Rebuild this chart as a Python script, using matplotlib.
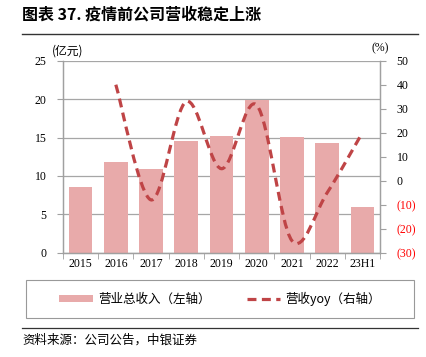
import matplotlib
matplotlib.use("Agg")
import matplotlib.pyplot as plt
from matplotlib.path import Path
from matplotlib.patches import PathPatch, Rectangle, Patch
from matplotlib.lines import Line2D
from matplotlib.ticker import FixedLocator, FuncFormatter
import numpy as np

plt.rcParams['font.family'] = ['Liberation Serif', 'Noto Sans CJK SC', 'DejaVu Sans']

categories = ['2015', '2016', '2017', '2018', '2019', '2020', '2021', '2022', '23H1']
revenue = [8.5, 11.8, 10.9, 14.5, 15.2, 19.9, 15.1, 14.3, 5.9]
yoy_categories = ['2016', '2017', '2018', '2019', '2020', '2021', '2022', '23H1']
yoy = [40.0, -8.0, 33.0, 5.0, 31.5, -25.0, -5.0, 20.0]

bar_color = '#E8AAAA'
line_color = '#BF4446'
grid_color = '#A6A6A6'
spine_color = '#A0A0A0'
cjk = ['Noto Sans CJK SC', 'DejaVu Sans']

fig = plt.figure(figsize=(4.27, 3.57), dpi=100)
W, H = 427, 357
ax = fig.add_axes([63 / W, 1 - 252.7 / H, (380 - 63) / W, (252.7 - 60.7) / H])
ax2 = ax.twinx()

x = np.arange(len(categories))
ax.bar(x, revenue, width=0.67, color=bar_color, zorder=2)
ax.set_xlim(-0.5, len(categories) - 0.5)
ax.set_ylim(0, 25)
ax.set_yticks(np.arange(0, 26, 5))
ax.yaxis.grid(True, color=grid_color, lw=0.9, zorder=0)
ax.set_axisbelow(True)
ax.set_xticks(x)
ax.set_xticklabels(categories, fontsize=8.5)
ax.xaxis.set_minor_locator(FixedLocator(np.arange(-0.5, len(categories), 1.0)))
ax.tick_params(axis='x', which='major', length=0, pad=4)
ax.tick_params(axis='x', which='minor', length=4, color=spine_color, direction='out')
ax.tick_params(axis='y', length=4, color=spine_color, labelsize=8.5, pad=8)

# smooth yoy line through the points (cardinal spline drawn as Bezier)
xi = [categories.index(c) for c in yoy_categories]
pts = list(zip(xi, yoy))
verts = [pts[0]]
codes = [Path.MOVETO]
n = len(pts)
for i in range(n - 1):
    p0 = pts[i - 1] if i > 0 else pts[i]
    p1 = pts[i]
    p2 = pts[i + 1]
    p3 = pts[i + 2] if i + 2 < n else pts[i + 1]
    c1 = (p1[0] + (p2[0] - p0[0]) / 6, p1[1] + (p2[1] - p0[1]) / 6)
    c2 = (p2[0] - (p3[0] - p1[0]) / 6, p2[1] - (p3[1] - p1[1]) / 6)
    verts += [c1, c2, p2]
    codes += [Path.CURVE4] * 3
path = Path(verts, codes)
patch = PathPatch(path, fill=False, edgecolor=line_color, lw=2.3,
                  linestyle=(0, (2.8, 1.7)), capstyle='butt', transform=ax2.transData, zorder=3)
ax2.add_patch(patch)
ax2.set_ylim(-30, 50)
ax2.set_yticks(np.arange(-30, 51, 10))
ax2.yaxis.set_major_formatter(FuncFormatter(lambda v, p: f'({abs(int(v))})' if v < 0 else f'{int(v)}'))
ax2.tick_params(axis='y', length=4, color=spine_color, labelsize=8.5, pad=8)
for lbl, v in zip(ax2.get_yticklabels(), np.arange(-30, 51, 10)):
    if v < 0:
        lbl.set_color('red')

for a in (ax, ax2):
    a.spines['top'].set_visible(False)
    for s in ('left', 'right', 'bottom'):
        a.spines[s].set_color(spine_color)
        a.spines[s].set_linewidth(0.9)

# unit labels
fig.text(52 / W, 1 - 51 / H, '(亿元)', fontsize=8.5, family=cjk, va='center', ha='left')
fig.text(380 / W, 1 - 48 / H, '(%)', fontsize=8.5, va='center', ha='center')

# title
fig.text(22 / W, 1 - 15 / H, '图表 37. 疫情前公司营收稳定上涨', fontsize=11.5, fontweight='bold',
         family=cjk, va='center', ha='left')
fig.add_artist(Line2D([22 / W, 418 / W], [1 - 34 / H, 1 - 34 / H], color='#333333', lw=1.0))

# legend box
fig.add_artist(Rectangle((26 / W, 1 - 318 / H), 388 / W, 38 / H, fill=False,
                         edgecolor='#999999', lw=0.8, transform=fig.transFigure))
handles = [Patch(facecolor=bar_color, edgecolor='none'),
           Line2D([], [], color=line_color, lw=2.3, linestyle=(0, (2.8, 1.7)))]
labels = ['营业总收入（左轴）', '营收yoy（右轴）']
leg = fig.legend(handles, labels, loc='center', bbox_to_anchor=(220 / W, 1 - 299 / H),
                 ncol=2, frameon=False, prop={'family': cjk, 'size': 9},
                 handlelength=2.7, handleheight=0.55, columnspacing=2.9, handletextpad=0.4)

# source line
fig.add_artist(Line2D([22 / W, 418 / W], [1 - 328 / H, 1 - 328 / H], color='#333333', lw=0.9))
fig.text(22 / W, 1 - 340 / H, '资料来源：公司公告，中银证券', fontsize=9, family=cjk,
         va='center', ha='left')

fig.savefig('out.png', dpi=100)
